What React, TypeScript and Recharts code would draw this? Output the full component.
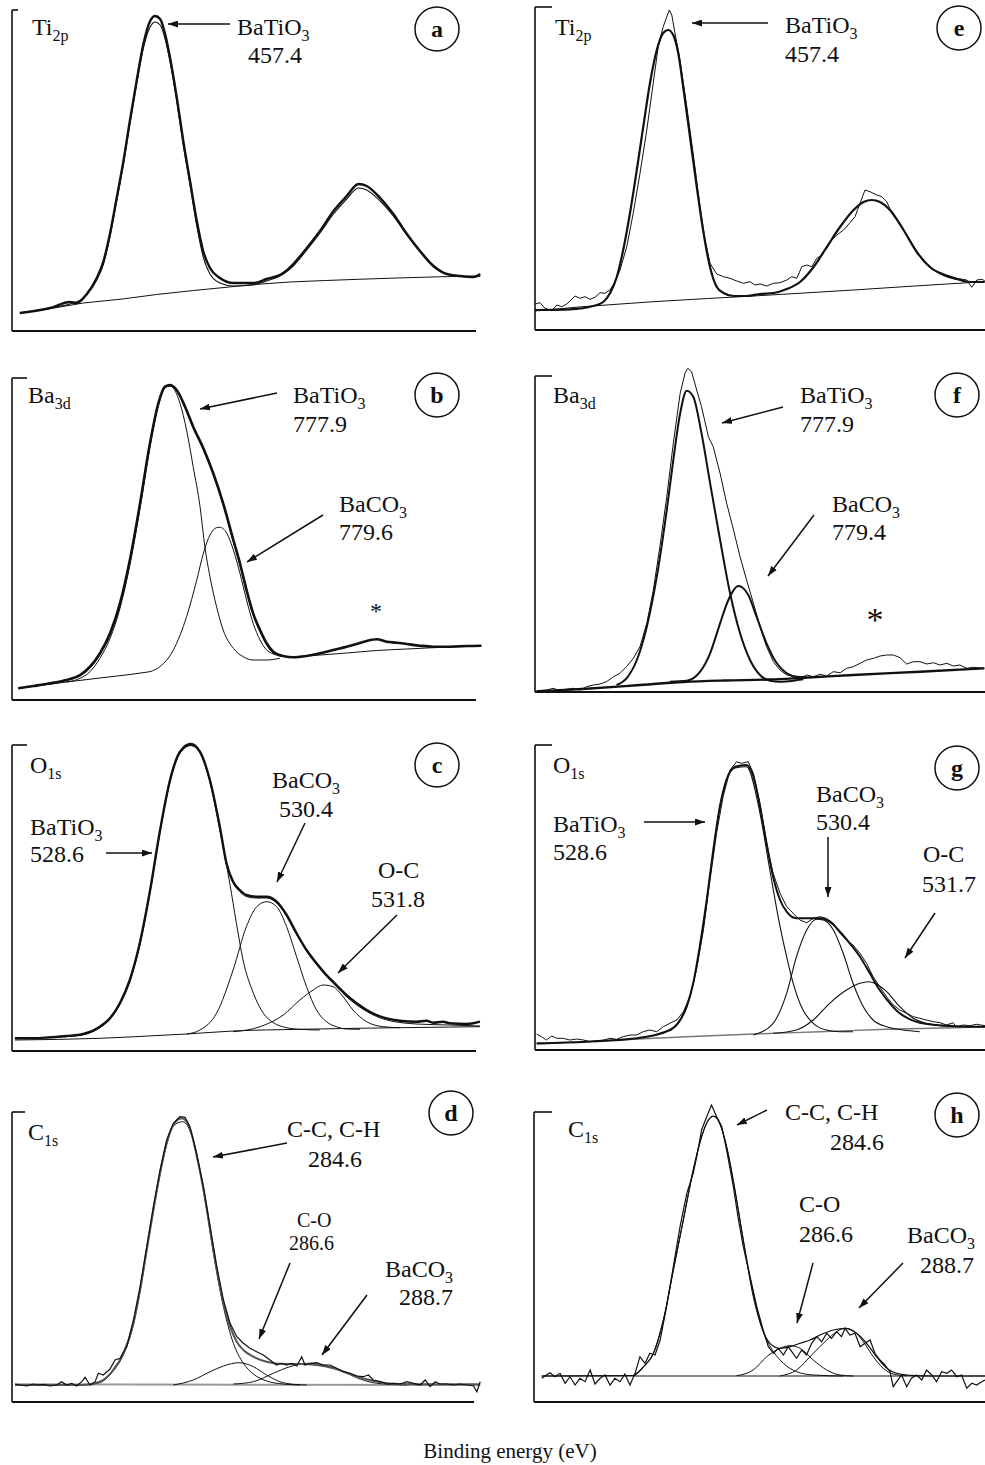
import React from "react";
import { LineChart, Line, XAxis, YAxis, ReferenceLine } from "recharts";

type Pt = [number, number]; // [binding energy (eV), intensity (a.u.)]

// ---- (a) Ti 2p, sample 1
const aData: Pt[] = [[453.62,18],[454.47,23],[455.03,29],[455.22,28],[455.5,37],[455.78,53],[455.97,70],[456.15,97],[456.34,133],[456.53,170],[456.71,210],[456.9,250],[457.09,287],[457.28,310],[457.42,315],[457.56,312],[457.7,297],[457.84,273],[458.03,233],[458.21,190],[458.4,150],[458.59,110],[458.77,80],[458.96,63],[459.24,53],[459.62,48],[460.18,48],[460.55,52],[461.02,58],[461.3,67],[461.68,83],[462.05,100],[462.43,120],[462.8,135],[463.13,147],[463.36,145],[463.74,133],[464.11,117],[464.49,97],[464.86,80],[465.24,65],[465.61,57],[465.98,55],[466.36,54],[466.55,57]];
const aFit: Pt[] = [[453.62,18],[454.47,23],[455.03,27],[455.22,29],[455.5,36],[455.78,51],[455.97,67],[456.15,94],[456.34,130],[456.53,167],[456.71,207],[456.9,247],[457.09,283],[457.28,304],[457.42,309],[457.56,306],[457.7,292],[457.84,269],[458.03,229],[458.21,186],[458.4,146],[458.59,105],[458.77,74],[458.96,57],[459.24,48],[459.62,45],[460.18,46],[460.55,50],[461.02,57],[461.3,65],[461.68,81],[462.05,98],[462.43,117],[462.8,132],[463.13,143],[463.36,141],[463.74,130],[464.11,115],[464.49,96],[464.86,79],[465.24,64],[465.61,57],[465.98,55],[466.36,54],[466.55,55]];
const aBg: Pt[] = [[453.62,18],[454.5,22.5],[455.4,28],[456.5,32],[457.46,36.5],[458.5,40.5],[459.5,44],[460.18,46.5],[461.2,49],[462.2,50.5],[463.13,51.7],[464.2,53],[465.4,54.2],[466.55,55]];

// ---- (e) Ti 2p, sample 2
const eData: Pt[] = [[453.67,26],[453.81,27.3],[453.95,21.7],[454.14,19.3],[454.28,25],[454.42,23.3],[454.56,26],[454.65,29],[454.79,34],[454.93,31.7],[455.07,33.3],[455.21,30.7],[455.35,32.7],[455.49,37.3],[455.63,36.7],[455.77,40],[455.91,48.3],[456.05,60],[456.24,83.3],[456.42,116.7],[456.61,156.7],[456.8,200],[456.98,246.7],[457.12,283.3],[457.26,303.3],[457.36,313.3],[457.43,320],[457.5,315],[457.59,296.7],[457.73,270],[457.92,223.3],[458.11,173.3],[458.29,123.3],[458.43,90],[458.57,66.7],[458.76,56],[458.95,53.3],[459.13,51.7],[459.32,49],[459.51,46.7],[459.69,48.3],[459.83,45],[459.97,46],[460.16,44],[460.35,46.7],[460.53,47.3],[460.72,50],[460.86,53.3],[461,51.7],[461.14,63.3],[461.28,65],[461.42,63.3],[461.56,71.7],[461.7,75],[461.84,81.7],[461.98,90],[462.12,95],[462.31,100],[462.49,107.3],[462.63,113.3],[462.77,126.7],[462.91,140],[463.05,138.3],[463.24,135],[463.38,133.3],[463.52,128.3],[463.66,116.7],[463.8,110],[463.99,100],[464.17,90],[464.31,81.7],[464.45,73.3],[464.59,66.7],[464.78,60.7],[464.97,58.3],[465.2,55],[465.48,51.7],[465.76,50],[465.9,42.7],[466.04,50],[466.18,50.7],[466.26,49.3]];
const eFit: Pt[] = [[453.67,20],[454.65,20.7],[455.3,24],[455.58,28],[455.77,36.7],[455.96,53],[456.14,80],[456.33,117],[456.52,160],[456.7,203],[456.89,247],[457.08,280],[457.26,297],[457.4,300],[457.54,295],[457.68,277],[457.82,243],[458.01,193],[458.2,143],[458.39,97],[458.57,63],[458.76,43],[458.95,37],[459.23,34],[459.6,34],[459.97,36],[460.35,37],[460.72,41],[461.09,48],[461.47,63],[461.84,83],[462.21,103],[462.59,120],[462.87,128],[463.1,130],[463.33,128],[463.61,120],[463.99,100],[464.36,78],[464.73,63],[465.11,55],[465.48,51],[465.86,48],[466.26,48]];
const eBg: Pt[] = [[453.67,19],[455,23.3],[456.98,28.3],[458.5,31.5],[459.79,34],[461.2,37],[462.59,40],[464,43.3],[465.2,46],[466.26,48.3]];

// ---- (b) Ba 3d, sample 1
const bData: Pt[] = [[772.91,11.7],[773.41,14],[773.97,16.7],[774.52,20],[774.97,25],[775.3,33.3],[775.63,46.7],[775.97,66.7],[776.3,96.7],[776.63,140],[776.97,196.7],[777.3,256.7],[777.58,296.7],[777.8,313.3],[777.97,315],[778.19,310],[778.47,293.3],[778.74,273.3],[779.08,251.7],[779.41,226.7],[779.74,196.7],[780.08,160],[780.3,136.7],[780.52,110],[780.74,86.7],[780.97,70],[781.19,56.7],[781.41,48.3],[781.74,44],[782.08,42.7],[782.52,44],[782.97,46.7],[783.41,50],[783.86,53.3],[784.19,56],[784.52,59],[784.86,60.7],[785.19,58.3],[785.52,57.3],[785.86,56],[786.3,54.3],[786.74,53.3],[787.3,53.3],[787.86,54],[788.35,54.3]];
const bFit: Pt[] = [[772.91,11.7],[773.41,14],[773.97,16.7],[774.52,20],[774.97,24],[775.3,31.7],[775.63,45],[775.97,65],[776.3,95],[776.63,138],[776.97,195],[777.3,255],[777.58,295],[777.8,312],[777.97,314],[778.19,309],[778.47,292],[778.74,272],[779.08,250],[779.41,225],[779.74,195],[780.08,158],[780.3,135],[780.52,108],[780.74,85],[780.97,68],[781.19,55],[781.41,47],[781.74,43.5],[782.08,43.5],[782.97,45],[783.86,47],[784.86,49.5],[785.86,51],[786.74,52.3],[787.86,53.5],[788.35,54]];
const bTiO3: Pt[] = [[774.52,18],[774.97,21.7],[775.3,28.3],[775.63,41.7],[775.97,61.7],[776.3,91.7],[776.63,135],[776.97,191.7],[777.3,253.3],[777.58,295],[777.8,312.7],[777.97,314],[778.08,311.7],[778.3,296.7],[778.52,270],[778.74,233.3],[778.97,193.3],[779.13,153.3],[779.3,123.3],[779.52,93.3],[779.74,70],[780.08,51.7],[780.41,43.3],[780.74,40],[781.19,40],[781.63,41.7]];
const bCO3: Pt[] = [[777.3,28.3],[777.63,33.3],[778.08,50],[778.52,83.3],[778.86,120],[779.08,146.7],[779.3,165],[779.52,172.3],[779.63,172.7],[779.86,166.7],[780.08,150],[780.3,126.7],[780.52,100],[780.74,76.7],[780.97,60],[781.19,50],[781.52,45],[781.86,43.3]];
const bBg: Pt[] = [[772.91,11.7],[774.52,18],[775.63,22],[776.63,25.5],[777.3,28.3]];

// ---- (f) Ba 3d, sample 2
const fData: Pt[] = [[773.54,1.3],[773.83,2],[774.02,3.7],[774.22,1.3],[774.41,2.7],[774.6,3.7],[774.8,2],[774.99,5.3],[775.19,7],[775.38,8],[775.57,10.3],[775.77,15.3],[775.96,18.7],[776.15,25.3],[776.35,33.7],[776.54,45.3],[776.74,68.7],[776.93,102],[777.12,145.3],[777.32,195.3],[777.51,248.7],[777.71,298.7],[777.85,318.7],[777.93,323.7],[778.04,320.3],[778.19,302],[778.33,285.3],[778.53,255.3],[778.67,245.3],[778.87,218.7],[779.06,188.7],[779.26,162],[779.45,135.3],[779.64,112],[779.84,88.7],[780.03,65.3],[780.22,45.3],[780.42,30.3],[780.61,22],[780.81,17],[781.1,15.3],[781.19,13.7],[781.39,17],[781.58,15.3],[781.77,17.7],[781.97,16],[782.16,20.3],[782.36,19.3],[782.55,23.7],[782.74,25.3],[782.94,28.7],[783.13,32],[783.33,33.7],[783.52,36],[783.71,37],[783.91,37],[784.1,34.3],[784.29,28],[784.49,30.3],[784.68,30.3],[784.88,28],[785.07,29.3],[785.26,27],[785.46,28.7],[785.65,26],[785.84,27],[786.04,23.7],[786.23,24.7],[786.55,23.7]];
const fTiO3: Pt[] = [[775.86,7],[776.15,13.7],[776.45,32],[776.74,65.3],[777.03,115.3],[777.32,182],[777.51,232],[777.71,278.7],[777.9,301.3],[778.09,295.3],[778.33,258.7],[778.58,208.7],[778.87,152],[779.16,98.7],[779.45,58.7],[779.74,32],[780.03,17],[780.32,11.3],[780.61,10.3],[781,11.3],[781.29,12.7]];
const fCO3: Pt[] = [[777.41,10.3],[777.9,11.3],[778.29,20.3],[778.58,38.7],[778.87,68.7],[779.11,92],[779.4,106],[779.69,97],[779.93,75.3],[780.22,48.7],[780.52,28.7],[780.81,18.7],[781.1,15.3],[781.39,14.7]];
const fBg: Pt[] = [[773.54,0.7],[774.99,3.3],[776.45,6.7],[777.8,10],[779,11.5],[780.3,12.5],[781.19,14],[782.74,17],[784.68,20.3],[786.55,23.7]];

// ---- (c) O 1s, sample 1
const cData: Pt[] = [[524.36,12.7],[524.8,12.7],[525.21,13.7],[525.61,15],[526.01,17],[526.41,24.3],[526.65,32.7],[526.89,47.7],[527.13,71],[527.37,107.7],[527.62,161],[527.86,221],[528.1,271],[528.34,299.3],[528.6,307],[528.82,299.3],[529.06,271],[529.3,224.3],[529.46,187.7],[529.62,169.3],[529.78,161],[529.94,156],[530.19,154.3],[530.43,154.3],[530.67,149.3],[530.91,136],[531.15,117.7],[531.39,101],[531.63,87.7],[531.87,76],[532.11,66],[532.35,56],[532.6,47.7],[532.84,41],[533.08,36],[533.32,32.7],[533.64,30.3],[534.04,29.3],[534.28,30.3],[534.44,28.3],[534.68,29.3],[534.84,27.7],[535.25,27],[535.41,27.7],[535.57,29.3]];
const cFit: Pt[] = [[524.36,12.5],[525.21,13.5],[526.01,16.5],[526.41,23.5],[526.65,32],[526.89,47],[527.13,70],[527.37,106.5],[527.62,160],[527.86,220],[528.1,270],[528.34,298],[528.6,305.5],[528.82,298],[529.06,270],[529.3,223],[529.46,186.5],[529.62,168],[529.78,159.5],[529.94,154.5],[530.19,153],[530.43,153],[530.67,148],[530.91,135],[531.15,116.5],[531.39,100],[531.63,86.5],[531.87,74.5],[532.11,64.5],[532.35,54.5],[532.6,46],[532.84,39.5],[533.08,34.5],[533.32,31],[533.64,28.5],[534.04,27],[534.84,26],[535.57,25]];
const cTiO3: Pt[] = [[525.61,14.5],[526.01,16.5],[526.41,23.5],[526.65,31.5],[526.89,46.5],[527.13,70],[527.37,106],[527.62,159.5],[527.86,219.5],[528.1,269.5],[528.34,298],[528.6,305.5],[528.82,299.3],[529.06,269.3],[529.3,221],[529.54,167.7],[529.7,127.7],[529.86,91],[530.11,57.7],[530.35,37.7],[530.59,28.3],[530.91,23.3],[531.23,21.7],[531.71,21]];
const cCO3: Pt[] = [[528.5,17],[528.82,21],[529.22,37.7],[529.62,81],[529.94,124.3],[530.19,144.3],[530.43,149.3],[530.67,144.3],[530.91,124.3],[531.15,94.3],[531.39,64.3],[531.63,41],[531.87,29.3],[532.11,24.3],[532.35,22],[532.68,21.7]];
const cOC: Pt[] = [[529.62,19.3],[530.27,24.3],[530.83,36],[531.23,51],[531.55,61],[531.79,66],[532.03,64.3],[532.27,54.3],[532.51,41],[532.84,29.3],[533.24,24.3],[533.64,23.3]];
const cBg: Pt[] = [[524.36,11],[526.41,12.7],[528.03,16],[528.5,17],[529.62,20],[531.23,21.7],[533.64,23.3],[535.57,24.3]];

// ---- (g) O 1s, sample 2
const gData: Pt[] = [[523.49,16],[523.61,13.3],[523.73,10],[523.86,14],[523.98,11.7],[524.14,11.7],[524.3,10],[524.47,11],[524.63,10],[524.79,8.3],[524.95,9.3],[525.12,10],[525.28,11.7],[525.44,10.7],[525.6,13.3],[525.77,15],[525.93,15],[526.09,18.3],[526.25,20],[526.42,18.3],[526.58,23.3],[526.74,26.7],[526.91,30],[527.07,38.3],[527.23,53.3],[527.39,80],[527.56,120],[527.72,170],[527.88,216.7],[528.04,253.3],[528.21,280],[528.37,288.3],[528.49,286.7],[528.65,288.3],[528.78,276.7],[528.94,246.7],[529.1,206.7],[529.26,176.7],[529.43,156.7],[529.59,143.3],[529.75,136.7],[529.91,130],[530.08,127.3],[530.24,131.7],[530.4,133.3],[530.56,131.7],[530.73,126.7],[530.89,116.7],[531.05,110],[531.21,105],[531.38,96.7],[531.54,86.7],[531.7,73.3],[531.86,63.3],[532.03,53.3],[532.19,45],[532.35,40],[532.52,36.7],[532.68,33.3],[532.84,31.7],[533,30],[533.17,28.3],[533.33,27.3],[533.49,25],[533.65,27.3],[533.73,23.3],[533.9,25],[534.06,24.3],[534.22,25.7],[534.43,24.3]];
const gFit: Pt[] = [[523.49,6.7],[524.71,8.3],[525.93,11.7],[526.74,20],[526.99,30],[527.15,43.3],[527.31,66.7],[527.47,103.3],[527.64,150],[527.8,200],[527.96,243.3],[528.12,270],[528.33,283.3],[528.61,285],[528.78,273.3],[528.94,243.3],[529.1,206.7],[529.26,173.3],[529.43,150],[529.59,138.3],[529.83,131.7],[530.08,131.7],[530.4,131.7],[530.64,128.3],[530.89,118.3],[531.13,106.7],[531.38,93.3],[531.62,76.7],[531.86,60],[532.11,46.7],[532.35,36.7],[532.6,30.7],[532.84,27.3],[533.25,25],[533.65,24],[534.06,23.3],[534.43,23.3]];
const gTiO3: Pt[] = [[526.74,19],[526.99,29],[527.15,42.5],[527.31,66],[527.47,102.5],[527.64,149],[527.8,199],[527.96,242.5],[528.12,269],[528.33,282],[528.61,283.3],[528.94,236.7],[529.18,180],[529.43,123.3],[529.59,93.3],[529.75,66.7],[529.99,40],[530.24,26.7],[530.56,20],[530.89,18.3],[531.21,18.3]];
const gCO3: Pt[] = [[528.78,15],[529.26,26.7],[529.59,56.7],[529.83,93.3],[530.08,120],[530.32,130.7],[530.48,130],[530.73,120],[530.97,96.7],[531.21,66.7],[531.46,43.3],[531.7,30],[532.03,23.3],[532.43,20],[532.84,18.3]];
const gOC: Pt[] = [[529.26,16.7],[529.83,20],[530.24,30],[530.64,46.7],[531.05,60],[531.38,66.7],[531.58,68.3],[531.78,66],[532.03,58.3],[532.35,43.3],[532.68,31.7],[533,26.7],[533.41,24],[533.82,23.3]];
const gBg: Pt[] = [[523.49,6],[525.52,10],[527.15,13.3],[528.78,16],[530.4,18.3],[532.03,20.7],[533.65,22.3],[534.43,23.3]];

// ---- (d) C 1s, sample 1
const dData: Pt[] = [[279.05,18],[279.21,17],[279.44,16],[279.66,18],[279.82,17],[279.99,17.7],[280.21,16],[280.43,17],[280.59,20.3],[280.76,17],[280.93,18.7],[281.09,16],[281.26,20.3],[281.37,24.7],[281.53,17],[281.7,20.3],[281.81,28.7],[281.97,27],[282.19,32.7],[282.36,42],[282.53,43.7],[282.64,50.3],[282.75,55.3],[282.97,82],[283.19,115.3],[283.41,155.3],[283.63,195.3],[283.85,232],[284.07,262],[284.29,278.7],[284.51,285.3],[284.68,284.7],[284.84,275.3],[285.06,248.7],[285.29,215.3],[285.51,175.3],[285.73,135.3],[285.95,102],[286.17,78.7],[286.39,65.3],[286.61,58.7],[286.83,53.7],[287.05,50.3],[287.27,47],[287.49,42],[287.71,37],[287.88,38.7],[288.04,37],[288.21,38.7],[288.38,36],[288.54,45.3],[288.65,37],[288.82,38.7],[289.04,39.3],[289.26,37],[289.48,37],[289.7,33.7],[289.92,30.3],[290.14,28.7],[290.36,26],[290.58,25.3],[290.75,27],[290.91,22],[291.14,20.3],[291.36,18],[291.58,18.7],[291.8,18],[292.02,20.3],[292.24,18.7],[292.46,17],[292.63,22],[292.79,15.3],[292.96,20.3],[293.12,18],[293.34,18],[293.56,17],[293.78,18],[294.01,17],[294.23,16],[294.34,10.3],[294.45,20.3]];
const dFit: Pt[] = [[279.05,17],[281.31,17],[281.86,20.3],[282.3,32],[282.64,48.7],[282.97,78.7],[283.19,112],[283.41,152],[283.63,192],[283.85,228.7],[284.07,258.7],[284.29,277],[284.57,283.7],[284.84,273.7],[285.06,247],[285.29,212],[285.51,172],[285.73,132],[285.95,98.7],[286.17,75.3],[286.39,60.3],[286.61,52],[286.94,45.3],[287.38,40.3],[287.93,38],[288.49,38],[289.04,37],[289.59,33.7],[290.14,28],[290.69,22.7],[291.25,19.3],[291.8,18],[292.9,17.7],[294.45,17.7]];
const dCC: Pt[] = [[281.31,17],[281.86,19.5],[282.3,31],[282.64,47.5],[282.97,77.5],[283.19,111],[283.41,151],[283.63,191],[283.85,227.5],[284.07,257.5],[284.29,276],[284.6,280.3],[284.95,262],[285.29,212],[285.62,148.7],[285.95,95.3],[286.28,58.7],[286.61,38.7],[286.94,28],[287.38,21],[287.93,18],[288.49,17]];
const dCO: Pt[] = [[284.29,17],[284.95,22],[285.51,30.3],[285.95,36],[286.48,39.3],[286.94,35.3],[287.38,27],[287.82,20.3],[288.27,17.7],[288.71,17]];
const dCO3: Pt[] = [[286.28,18],[286.94,20.3],[287.6,28.7],[288.15,35.3],[288.71,38.7],[289.26,37],[289.81,32],[290.36,24.3],[290.91,19.3],[291.47,17.7],[292.02,17]];
const dBg: Pt[] = [[279.05,17.7],[294.45,17]];

// ---- (h) C 1s, sample 2
const hData: Pt[] = [[279.25,23.7],[279.35,26],[279.51,29.3],[279.66,25.3],[279.82,28.7],[279.98,18.7],[280.13,25.3],[280.29,17],[280.44,23.7],[280.6,20.3],[280.76,32],[280.91,18],[281.07,23.7],[281.22,27],[281.38,17],[281.53,23.7],[281.69,20.3],[281.84,28],[282,17],[282.16,28.7],[282.31,45.3],[282.47,38.7],[282.62,48.7],[282.78,47],[282.94,62],[283.14,95.3],[283.35,135.3],[283.56,175.3],[283.77,208.7],[283.97,228.7],[284.08,245.3],[284.23,272],[284.39,285.3],[284.54,297],[284.7,285.3],[284.86,275.3],[285.01,252],[285.22,215.3],[285.38,182],[285.53,155.3],[285.74,125.3],[285.95,95.3],[286.15,72],[286.31,55.3],[286.47,48.7],[286.62,53.7],[286.78,47],[286.93,55.3],[287.04,50.3],[287.19,43.7],[287.35,52],[287.5,47],[287.66,58.7],[287.82,65.3],[287.97,60.3],[288.13,68.7],[288.28,63.7],[288.44,70.3],[288.59,65.3],[288.7,73.7],[288.85,67],[289.01,68.7],[289.17,55.3],[289.32,58.7],[289.48,62],[289.63,48.7],[289.79,42],[289.94,37],[290.1,30.3],[290.2,15.3],[290.31,20.3],[290.46,27],[290.62,15.3],[290.77,23.7],[290.93,27],[291.09,22],[291.24,32],[291.4,27],[291.55,20.3],[291.71,30.3],[291.87,28.7],[292.02,32],[292.18,25.3],[292.33,27],[292.49,13.7],[292.65,18.7],[292.8,17],[292.96,20.3],[293.06,22]];
const hFit: Pt[] = [[279.25,26],[282.1,26.5],[282.42,35.3],[282.73,48.7],[283.04,82],[283.35,132],[283.66,182],[283.97,232],[284.23,265.3],[284.44,282],[284.6,286],[284.8,278.7],[285.01,255.3],[285.27,212],[285.53,162],[285.84,108.7],[286.1,75.3],[286.36,58.7],[286.67,53.7],[286.99,55.3],[287.3,58.7],[287.61,62],[287.92,67],[288.34,72],[288.7,73.7],[289.06,68.7],[289.37,58.7],[289.68,45.3],[290,33.7],[290.31,28.7],[290.72,26.7],[291.55,26],[293.06,26]];
const hCC: Pt[] = [[282.1,26.5],[282.42,35],[282.73,48.5],[283.04,81.5],[283.35,131.5],[283.66,181.5],[283.97,231.5],[284.23,265],[284.44,281.5],[284.6,285.5],[284.8,278],[285.01,255],[285.27,211.5],[285.53,161.5],[285.84,105.3],[286.15,70.3],[286.47,50.3],[286.78,38.7],[287.19,30.3],[287.71,27],[288.65,26]];
const hCO: Pt[] = [[285.32,26.3],[285.84,32],[286.26,45.3],[286.67,53.7],[286.99,56.3],[287.3,53.7],[287.71,42],[288.13,32],[288.54,27],[288.96,26]];
const hCO3: Pt[] = [[286.67,26],[287.19,32],[287.71,48.7],[288.13,62],[288.44,70.3],[288.7,73.7],[288.96,71.3],[289.27,60.3],[289.58,45.3],[289.89,33.7],[290.2,28],[290.62,26.3]];
const hBg: Pt[] = [[279.25,26],[293.06,26]];

const SERIF = '"Liberation Serif", "Times New Roman", serif';
const INK = "#111";

interface Curve {
  pts: Pt[];
  width: number;
  color?: string;
  smooth?: boolean;
}

interface PanelCfg {
  id: string;
  left: number;
  top: number;
  right: number;
  bottom: number;
  axisEnd: number; // where the bottom axis line stops, px
  energy: [number, number];
  tick: number; // length of the cap at the top of the y axis, px
  curves: Curve[];
}

const panels: PanelCfg[] = [
  { id: "a", left: 12, top: 10, right: 482, bottom: 331, axisEnd: 476, energy: [453.4, 466.6], tick: 6,
    curves: [{ pts: aBg, width: 1 }, { pts: aFit, width: 1.1, smooth: true }, { pts: aData, width: 2.4, smooth: true }] },
  { id: "e", left: 535, top: 7, right: 985, bottom: 330, axisEnd: 985, energy: [453.67, 466.27], tick: 17,
    curves: [{ pts: eBg, width: 1 }, { pts: eFit, width: 2.2, smooth: true }, { pts: eData, width: 1 }] },
  { id: "b", left: 12, top: 378, right: 482, bottom: 700, axisEnd: 476, energy: [772.7, 788.37], tick: 15,
    curves: [{ pts: bBg, width: 1 }, { pts: bTiO3, width: 1, smooth: true }, { pts: bCO3, width: 1, smooth: true },
      { pts: bFit, width: 1, smooth: true }, { pts: bData, width: 2.6, smooth: true }] },
  { id: "f", left: 535, top: 376, right: 985, bottom: 692, axisEnd: 985, energy: [773.49, 786.57], tick: 17,
    curves: [{ pts: fBg, width: 2.4, smooth: true }, { pts: fTiO3, width: 2, smooth: true }, { pts: fCO3, width: 2, smooth: true },
      { pts: fData, width: 1 }] },
  { id: "c", left: 12, top: 745, right: 482, bottom: 1051, axisEnd: 476, energy: [524.29, 535.62], tick: 15,
    curves: [{ pts: cBg, width: 1, smooth: true }, { pts: cTiO3, width: 1, smooth: true }, { pts: cCO3, width: 1, smooth: true },
      { pts: cOC, width: 1, smooth: true }, { pts: cFit, width: 1, smooth: true }, { pts: cData, width: 2.4, smooth: true }] },
  { id: "g", left: 535, top: 745, right: 985, bottom: 1050, axisEnd: 985, energy: [523.45, 534.43], tick: 17,
    curves: [{ pts: gBg, width: 1.4, color: "#777", smooth: true }, { pts: gTiO3, width: 1.1, smooth: true }, { pts: gCO3, width: 1.1, smooth: true },
      { pts: gOC, width: 1.1, smooth: true }, { pts: gFit, width: 2, smooth: true }, { pts: gData, width: 1 }] },
  { id: "d", left: 12, top: 1112, right: 482, bottom: 1402, axisEnd: 474, energy: [278.95, 294.51], tick: 13,
    curves: [{ pts: dBg, width: 2, color: "#999" }, { pts: dCC, width: 1, smooth: true }, { pts: dCO, width: 1, smooth: true },
      { pts: dCO3, width: 1, smooth: true }, { pts: dFit, width: 2, color: "#555", smooth: true }, { pts: dData, width: 1.2 }] },
  { id: "h", left: 534, top: 1112, right: 985, bottom: 1402, axisEnd: 985, energy: [279.01, 293.06], tick: 18,
    curves: [{ pts: hBg, width: 1 }, { pts: hCC, width: 1, smooth: true }, { pts: hCO, width: 1, smooth: true },
      { pts: hCO3, width: 1, smooth: true }, { pts: hFit, width: 1.2, smooth: true }, { pts: hData, width: 1.2 }] },
];

function Panel({ cfg }: { cfg: PanelCfg }) {
  const pad = 3;
  const headroom = 14; // data may rise a little above the axis cap (panel f)
  const w = cfg.right - cfg.left;
  const h = cfg.bottom - cfg.top;
  const [e0, e1] = cfg.energy;
  const evPerPx = (e1 - e0) / w;
  const eEnd = e0 + (cfg.axisEnd - cfg.left) * evPerPx;
  return (
    <div style={{ position: "absolute", left: cfg.left - pad, top: cfg.top - headroom - pad }}>
      <LineChart width={w + 2 * pad} height={h + headroom + 2 * pad} margin={{ top: pad, right: pad, bottom: pad, left: pad }}>
        <XAxis type="number" dataKey="e" domain={cfg.energy} allowDataOverflow hide />
        <YAxis type="number" dataKey="v" domain={[0, h + headroom]} allowDataOverflow hide />
        <ReferenceLine segment={[{ x: e0, y: 0 }, { x: eEnd, y: 0 }]} stroke={INK} strokeWidth={1.8} ifOverflow="visible" />
        <ReferenceLine segment={[{ x: e0, y: 0 }, { x: e0, y: h }]} stroke={INK} strokeWidth={1.6} ifOverflow="visible" />
        <ReferenceLine
          segment={[{ x: e0, y: h }, { x: e0 + cfg.tick * evPerPx, y: h }]}
          stroke={INK}
          strokeWidth={1.6}
          ifOverflow="visible"
        />
        {cfg.curves.map((c, i) => (
          <Line
            key={i}
            data={c.pts.map(([e, v]) => ({ e, v }))}
            dataKey="v"
            type={c.smooth ? "monotone" : "linear"}
            stroke={c.color ?? INK}
            strokeWidth={c.width}
            dot={false}
            activeDot={false}
            isAnimationActive={false}
          />
        ))}
      </LineChart>
    </div>
  );
}

// annotations: [x, y, text, subscript, fontSize]
type Note = [number, number, string, string?, number?];
const notes: Note[] = [
  [32, 35, "Ti", "2p"], [237, 35, "BaTiO", "3"], [248, 63, "457.4"],
  [555, 35, "Ti", "2p"], [785, 33, "BaTiO", "3"], [785, 62, "457.4"],
  [28, 403, "Ba", "3d"], [293, 403, "BaTiO", "3"], [293, 432, "777.9"], [339, 512, "BaCO", "3"], [339, 540, "779.6"],
  [553, 403, "Ba", "3d"], [800, 403, "BaTiO", "3"], [800, 432, "777.9"], [832, 512, "BaCO", "3"], [832, 540, "779.4"],
  [30, 773, "O", "1s"], [30, 835, "BaTiO", "3"], [30, 862, "528.6"], [272, 788, "BaCO", "3"], [279, 817, "530.4"],
  [378, 878, "O-C"], [371, 907, "531.8"],
  [553, 773, "O", "1s"], [553, 832, "BaTiO", "3"], [553, 860, "528.6"], [816, 802, "BaCO", "3"], [816, 830, "530.4"],
  [923, 862, "O-C"], [922, 892, "531.7"],
  [28, 1140, "C", "1s"], [287, 1137, "C-C, C-H"], [308, 1167, "284.6"], [297, 1227, "C-O", undefined, 20], [289, 1250, "286.6", undefined, 20],
  [385, 1277, "BaCO", "3"], [399, 1305, "288.7"],
  [568, 1137, "C", "1s"], [785, 1120, "C-C, C-H"], [830, 1150, "284.6"], [799, 1212, "C-O"], [799, 1242, "286.6"],
  [907, 1243, "BaCO", "3"], [920, 1273, "288.7"],
];

const arrows: [number, number, number, number][] = [
  [230, 24, 168, 24], [768, 23, 692, 23],
  [277, 393, 200, 409], [323, 515, 247, 562],
  [783, 407, 722, 423], [814, 515, 768, 576],
  [106, 853, 152, 853], [305, 823, 277, 882], [397, 915, 338, 973],
  [644, 822, 705, 822], [828, 837, 828, 897], [935, 913, 905, 958],
  [287, 1143, 213, 1157], [290, 1263, 259, 1339], [367, 1295, 322, 1355],
  [767, 1110, 737, 1125], [813, 1263, 797, 1323], [903, 1263, 859, 1308],
];

const badges: [number, number, string][] = [
  [437, 29, "a"], [959, 28, "e"], [437, 395, "b"], [957, 395, "f"],
  [437, 765, "c"], [957, 768, "g"], [451, 1113, "d"], [957, 1115, "h"],
];

const textStyle = { fontFamily: SERIF };

function Annotations() {
  return (
    <svg width={985} height={1465} style={{ position: "absolute", left: 0, top: 0 }}>
      <defs>
        <marker id="head" viewBox="0 0 10 7" refX={10} refY={3.5} markerWidth={10} markerHeight={7} markerUnits="userSpaceOnUse" orient="auto">
          <path d="M0,0 L10,3.5 L0,7 z" fill={INK} />
        </marker>
      </defs>
      {notes.map(([x, y, t, sub, size], i) => (
        <text key={i} x={x} y={y} fontSize={size ?? 24} fill={INK} style={textStyle}>
          {t}
          {sub && <tspan fontSize={16} dy={6}>{sub}</tspan>}
        </text>
      ))}
      {arrows.map(([x1, y1, x2, y2], i) => (
        <line key={i} x1={x1} y1={y1} x2={x2} y2={y2} stroke={INK} strokeWidth={1.5} markerEnd="url(#head)" />
      ))}
      {badges.map(([x, y, t]) => (
        <g key={t}>
          <circle cx={x} cy={y} r={22} fill="none" stroke={INK} strokeWidth={1.5} />
          <text x={x} y={y + 8} fontSize={24} fontWeight="bold" textAnchor="middle" fill={INK} style={textStyle}>{t}</text>
        </g>
      ))}
      <text x={376} y={619} fontSize={24} textAnchor="middle" fill={INK} style={textStyle}>*</text>
      <text x={875} y={631} fontSize={34} textAnchor="middle" fill={INK} style={textStyle}>*</text>
      <text x={510} y={1458} fontSize={21} textAnchor="middle" fill={INK} style={textStyle}>Binding energy (eV)</text>
    </svg>
  );
}

export default function App() {
  return (
    <div style={{ position: "absolute", left: 0, top: 0, width: 985, height: 1465, overflow: "hidden", background: "#fff" }}>
      {panels.map((p) => (
        <Panel key={p.id} cfg={p} />
      ))}
      <Annotations />
    </div>
  );
}
